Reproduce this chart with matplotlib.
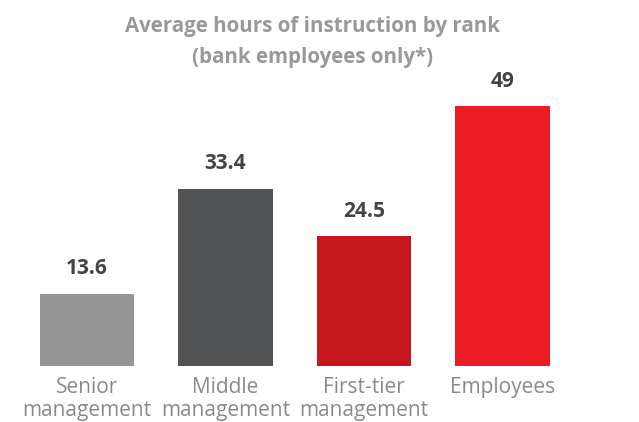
import matplotlib.pyplot as plt

ranks = ['Senior\nmanagement', 'Middle\nmanagement', 'First-tier\nmanagement', 'Employees']
hours = [13.6, 33.4, 24.5, 49]
labels = ['13.6', '33.4', '24.5', '49']
colors = ['#959595', '#525355', '#c4161c', '#ed1c24']

fig = plt.figure(figsize=(6.39, 4.22), dpi=100)
ax = fig.add_axes([0, 0.1327, 1, 0.8673])

x = range(len(hours))
bars = ax.bar(x, hours, width=0.68, color=colors)
for b, lab in zip(bars, labels):
    ax.annotate(lab, (b.get_x() + b.get_width() / 2, b.get_height()),
                xytext=(0, 18), textcoords='offset points', ha='center', va='center',
                fontsize=15, fontweight='bold', color='#444444', family='Open Sans')

ax.set_xlim(-0.628, 3.986)
ax.set_ylim(0, 69)
ax.set_xticks(list(x))
ax.set_xticklabels(ranks, fontsize=15, color='#8a8a8a', family='Open Sans', linespacing=1.1)
ax.tick_params(axis='x', length=0, pad=8)
ax.set_yticks([])
for s in ax.spines.values():
    s.set_visible(False)

fig.text(0.489, 0.901, 'Average hours of instruction by rank\n(bank employees only*)',
         ha='center', va='center', fontsize=14.8, fontweight='bold', color='#999999',
         family='Open Sans', linespacing=1.65)

fig.savefig('out.png', dpi=100)
